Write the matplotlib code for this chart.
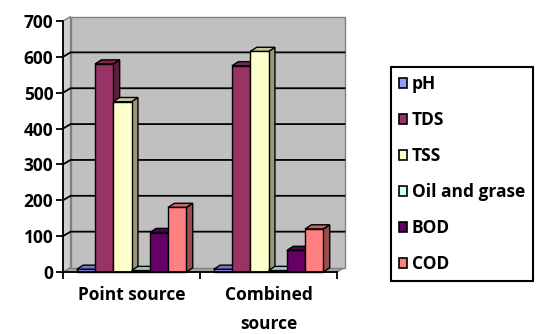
import matplotlib
matplotlib.use('Agg')
import matplotlib.pyplot as plt
from matplotlib.patches import Polygon, Patch
from matplotlib.colors import to_rgb
from matplotlib.font_manager import FontProperties

# ---------------------------------------------------------
# Data
# ---------------------------------------------------------
categories = ['Point source', 'Combined\nsource']
series = ['pH', 'TDS', 'TSS', 'Oil and grase', 'BOD', 'COD']
ph = [7.5, 7.5]
tds = [580, 575]
tss = [475, 615]
oil = [4, 4]
bod = [110, 60]
cod = [180, 120]
values = [ph, tds, tss, oil, bod, cod]
colors = ['#9999ff', '#993366', '#ffffcc', '#ccffff', '#660066', '#ff8080']
yticks = [0, 100, 200, 300, 400, 500, 600, 700]

# 3D look: depth offsets in data units (x: category units, y: value units)
WALL_DX, WALL_DY = 0.055, 12.5
BAR_DX, BAR_DY = 0.047, 11.7
GROUP_WIDTH = 0.8


def shade(c, f):
    r, g, b = to_rgb(c)
    return (r * f, g * f, b * f)


font = FontProperties(family=['Open Sans', 'DejaVu Sans'], weight='bold', size=12.5)

fig = plt.figure(figsize=(5.44, 3.34), dpi=100)
ax = fig.add_axes([63 / 544, 62 / 334, 274 / 544, 251 / 334])
ncat = len(categories)
ymax = yticks[-1]
ax.set_xlim(0, ncat)
ax.set_ylim(0, ymax)

# ---------------------------------------------------------
# Walls and floor
# ---------------------------------------------------------
floor = Polygon([(0, 0), (ncat, 0), (ncat + WALL_DX, WALL_DY), (WALL_DX, WALL_DY)],
                fc='#a6a6a6', ec='#808080', lw=1, clip_on=False, zorder=0.5)
side = Polygon([(0, 0), (WALL_DX, WALL_DY), (WALL_DX, ymax + WALL_DY), (0, ymax)],
               fc='#cfcfcf', ec='#808080', lw=1, clip_on=False, zorder=0.5)
back = Polygon([(WALL_DX, WALL_DY), (ncat + WALL_DX, WALL_DY),
                (ncat + WALL_DX, ymax + WALL_DY), (WALL_DX, ymax + WALL_DY)],
               fc='#c0c0c0', ec='#808080', lw=1, clip_on=False, zorder=0.5)
for p in (floor, side, back):
    ax.add_patch(p)

for v in yticks[1:-1]:
    ax.plot([0, WALL_DX, ncat + WALL_DX], [v, v + WALL_DY, v + WALL_DY],
            color='black', lw=1.3, zorder=1, clip_on=False)

# ---------------------------------------------------------
# Bars: side, top, then front face for each series left to right
# ---------------------------------------------------------
w = GROUP_WIDTH / len(series)
for j, (vals, col) in enumerate(zip(values, colors)):
    z = 2 + 3 * j
    xs = [i + (1 - GROUP_WIDTH) / 2 + j * w for i in range(ncat)]
    for x0, h in zip(xs, vals):
        x1 = x0 + w
        ax.add_patch(Polygon([(x1, 0), (x1 + BAR_DX, BAR_DY), (x1 + BAR_DX, h + BAR_DY), (x1, h)],
                             fc=shade(col, 0.6), ec='black', lw=1, clip_on=False, zorder=z))
        ax.add_patch(Polygon([(x0, h), (x1, h), (x1 + BAR_DX, h + BAR_DY), (x0 + BAR_DX, h + BAR_DY)],
                             fc=shade(col, 0.78), ec='black', lw=1, clip_on=False, zorder=z + 1))
    ax.bar(xs, vals, width=w, align='edge', color=col, edgecolor='black', lw=1,
           zorder=z + 2, clip_on=False)

# ---------------------------------------------------------
# Axes styling
# ---------------------------------------------------------
for s in ('top', 'right'):
    ax.spines[s].set_visible(False)
for s in ('left', 'bottom'):
    ax.spines[s].set_linewidth(1.3)
    ax.spines[s].set_zorder(40)

ax.set_yticks(yticks)
ax.set_yticklabels([str(t) for t in yticks], fontproperties=font)
ax.tick_params(axis='y', length=5, width=1.3, pad=2)
ax.set_xticks([i + 0.5 for i in range(ncat)])
ax.set_xticklabels(categories, fontproperties=font, linespacing=1.8)
ax.set_xticks(range(ncat + 1), minor=True)
ax.tick_params(axis='x', which='major', length=0, pad=10)
ax.tick_params(axis='x', which='minor', length=5, width=1.3)

# ---------------------------------------------------------
# Legend
# ---------------------------------------------------------
handles = [Patch(facecolor=c, edgecolor='black', lw=1.2) for c in colors]
leg = fig.legend(handles, series, loc='upper left', bbox_to_anchor=(391 / 544, 1 - 67 / 334),
                 prop=font, frameon=True, fancybox=False, framealpha=1, edgecolor='black',
                 borderpad=0.45, labelspacing=1.04, handlelength=0.5, handleheight=0.5,
                 handletextpad=0.25, borderaxespad=0)
leg.get_frame().set_linewidth(1.5)

fig.savefig('out.png', dpi=100)
